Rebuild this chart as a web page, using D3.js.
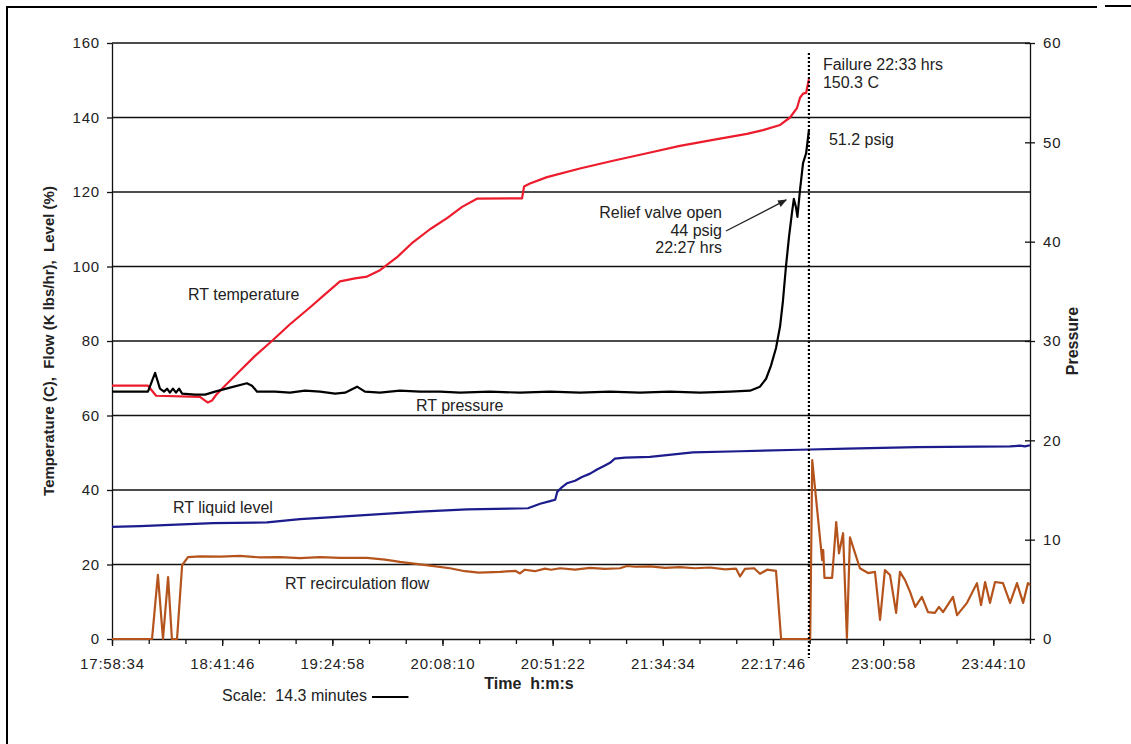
<!DOCTYPE html>
<html>
<head>
<meta charset="utf-8">
<script src="https://cdnjs.cloudflare.com/ajax/libs/d3/7.8.5/d3.min.js"></script>
<style>
    body { margin: 0; background: #fff; }
    svg text { font-family: "Liberation Sans", Arial, sans-serif; fill: #222; }
</style>
</head>
<body>
<div id="chart"></div>
<script>
// time is in minutes after 17:58:34
var xTickLabels = ["17:58:34", "18:41:46", "19:24:58", "20:08:10", "20:51:22", "21:34:34", "22:17:46", "23:00:58", "23:44:10"];
var leftTicks = [0, 20, 40, 60, 80, 100, 120, 140, 160];
var rightTicks = [0, 10, 20, 30, 40, 50, 60];
var failTime = 273.3;

// RT temperature (C)
var tempTime = [0, 14.1, 17.3, 34.5, 36.5, 37.6, 39.2, 40.8, 44.3, 50.2, 56.1, 62.7, 69.8, 77.6, 83.5, 89.4, 95.3, 100, 105.1, 111.8,
    118, 124.7, 131.4, 137.3, 143.1, 160.8, 161.6, 163.9, 170.6, 183.5, 196.5, 209.8, 222.7, 235.7, 249, 255.3, 262, 265.9, 268.6,
    269.8, 271, 272.2, 272.6, 273.3];
var tempValue = [68, 68, 65.3, 65, 64, 63.5, 64, 65.5, 68, 72, 76, 80, 84.5, 89, 92.5, 96, 96.8, 97.3, 99, 102.5,
    106.5, 110, 113, 116, 118.2, 118.3, 121.5, 122.3, 124, 126.3, 128.4, 130.4, 132.4, 134, 135.6, 136.6, 138, 140, 142.5,
    145.3, 146.4, 146.6, 148, 150.3];

// RT pressure (psig, right axis)
var presTime = [0, 14.1, 16.9, 18.8, 20.4, 21.6, 22.7, 23.9, 25.1, 26.3, 27.5, 32.5, 36.5, 40.4, 46.3, 52.9, 54.9, 56.9, 63.9, 69.8,
    75.7, 81.6, 87.5, 91.4, 96.1, 99.2, 105.1, 112.9, 120.8, 128.6, 136.5, 148.2, 160, 171.8, 183.5, 195.3, 207, 218.8, 230.6,
    242.4, 250.2, 254.1, 256.5, 258.4, 260.4, 262, 263.1, 264.3, 265.5, 266.7, 267.4, 268.2, 268.8, 269.8, 271, 272.2, 273.3];
var presValue = [24.9, 24.9, 26.8, 25.2, 24.9, 25.2, 24.8, 25.2, 24.8, 25.2, 24.7, 24.6, 24.6, 24.9, 25.3, 25.75, 25.5, 24.9, 24.9, 24.8,
    25, 24.9, 24.7, 24.8, 25.4, 24.9, 24.8, 25, 24.9, 24.9, 24.8, 24.9, 24.8, 24.9, 24.8, 24.9, 24.8, 24.9, 24.8,
    24.9, 25, 25.4, 26.2, 27.5, 29.3, 31.5, 34, 37.5, 40.5, 43, 44.3, 43.5, 42.5, 45.2, 47.9, 48.9, 51.2];

// RT liquid level (%)
var levelTime = [0, 11, 39.6, 60.8, 73.7, 86.7, 105.1, 120.8, 139.2, 163.1, 165.5, 167.9, 171.8, 173.8, 174.6, 176.5, 178.4, 181.6,
    184.3, 187.5, 190.2, 193.3, 195.3, 197.2, 201.2, 211, 227.8, 246.3, 269.8, 288.2, 315.7, 352.2, 356.1, 358, 360];
var levelValue = [30.1, 30.3, 31.1, 31.3, 32.2, 32.7, 33.5, 34.2, 34.8, 35.1, 35.7, 36.3, 37, 37.4, 39.5, 40.8, 41.8, 42.5,
    43.5, 44.4, 45.5, 46.6, 47.3, 48.4, 48.7, 48.9, 50.1, 50.4, 50.8, 51.1, 51.5, 51.7, 51.9, 51.7, 52];

// RT recirculation flow (K lbs/hr)
var flowTime = [0, 15.7, 18, 20, 22, 23.5, 25.5, 27.5, 29.8, 34.5, 42.4, 50.2, 58, 65.9, 73.7, 81.6, 89.4, 100, 107.1, 112.9,
    124.7, 132.5, 138.4, 143.9, 152.2, 158.1, 160, 161.9, 165.8, 169.8, 172.2, 175.7, 181.6, 187.5, 193.3, 199.2, 202, 205.1,
    211, 216.9, 222.7, 228.6, 234.5, 240.4, 244.7, 246.3, 248.2, 251.8, 254.1, 256.9, 260.4, 262.4, 273.8, 274.6, 278.5, 278.9,
    279.4, 282.4, 284, 285.1, 286.7, 288.2, 289.4, 293.3, 296.5, 299.2, 301.2, 303.1, 305.1, 307.5, 309, 311, 313, 315, 317.6,
    320, 322.7, 324.3, 325.9, 329.8, 331.4, 335.3, 339.2, 340.8, 342.4, 344.3, 346.3, 349.4, 352.2, 354.9, 357.3, 359.2, 360];
var flowValue = [0, 0, 17.2, 0, 16.6, 0, 0, 19.8, 22, 22.2, 22.1, 22.3, 21.9, 22, 21.7, 22, 21.8, 21.8, 21.3, 20.7,
    19.7, 19, 18.2, 17.8, 18, 18.3, 17.6, 18.6, 18.2, 18.9, 18.6, 19, 18.6, 19.1, 18.8, 19, 19.6, 19.4,
    19.5, 19.1, 19.3, 19, 19.2, 18.7, 18.9, 16.8, 18.8, 19, 17.5, 18.6, 18.3, 0, 0, 48, 21.2, 23.9,
    16.4, 16.4, 31.4, 23, 28.4, 0.3, 27.3, 19, 17.7, 18, 5.1, 18.5, 17.2, 7, 18, 15.8, 12.6, 8.6, 11.3,
    7.2, 7, 8.6, 7.2, 11.3, 6.4, 9.7, 15, 9.1, 15.3, 9.7, 15.3, 15, 9.7, 15, 9.7, 15, 14.5];

var W = 1131, H = 744;
var margin = { top: 43, right: 101, bottom: 105, left: 112 };
var width = W - margin.left - margin.right;
var height = H - margin.top - margin.bottom;

var svg = d3.select("#chart").append("svg")
    .attr("width", W)
    .attr("height", H);

// frame round the picture
svg.append("line").attr("x1", 7).attr("y1", 7).attr("x2", 7).attr("y2", H)
    .attr("stroke", "#000").attr("stroke-width", 2);
svg.append("line").attr("x1", 6).attr("y1", 7).attr("x2", 1097).attr("y2", 7)
    .attr("stroke", "#000").attr("stroke-width", 2);
svg.append("line").attr("x1", 1105).attr("y1", 6).attr("x2", W).attr("y2", 6)
    .attr("stroke", "#000").attr("stroke-width", 2);

var g = svg.append("g")
    .attr("transform", "translate(" + margin.left + "," + margin.top + ")");

var x = d3.scaleLinear().domain([0, 360]).range([0, width]);
var yL = d3.scaleLinear().domain([0, 160]).range([height, 0]);
var yR = d3.scaleLinear().domain([0, 60]).range([height, 0]);

// gridlines
g.selectAll(".grid")
    .data(leftTicks.filter(function (d) { return d > 0; }))
  .enter().append("line")
    .attr("class", "grid")
    .attr("x1", 0).attr("x2", width)
    .attr("y1", function (d) { return yL(d); })
    .attr("y2", function (d) { return yL(d); })
    .attr("stroke", "#111")
    .attr("stroke-width", 1.3);

function styleAxis(sel) {
    sel.selectAll("path").attr("stroke", "#111").attr("stroke-width", 1.3);
    sel.selectAll("line").attr("stroke", "#111").attr("stroke-width", 1.3);
    sel.selectAll("text")
        .style("font-family", "'Liberation Sans', Arial, sans-serif")
        .style("font-size", "15px")
        .style("letter-spacing", "0.8px")
        .attr("fill", "#222");
}

// left axis
var left = g.append("g")
    .call(d3.axisLeft(yL).tickValues(leftTicks).tickSize(5).tickSizeOuter(0).tickPadding(7));
styleAxis(left);

// right axis
var right = g.append("g")
    .attr("transform", "translate(" + width + ",0)")
    .call(d3.axisRight(yR).tickValues(rightTicks).tickSize(5).tickSizeOuter(0).tickPadding(8));
right.selectAll(".tick line").attr("x1", -5);
styleAxis(right);

// bottom axis: minor ticks every 14.4 min, labels every 43.2 min
var minorTicks = d3.range(0, 361, 14.4);
var majorTicks = xTickLabels.map(function (d, i) { return i * 43.2; });
var bottom = g.append("g")
    .attr("transform", "translate(0," + height + ")")
    .call(d3.axisBottom(x).tickValues(minorTicks).tickSize(5).tickSizeOuter(0).tickFormat(""));
styleAxis(bottom);
var bottomMajor = g.append("g")
    .attr("transform", "translate(0," + height + ")")
    .call(d3.axisBottom(x).tickValues(majorTicks).tickSize(7).tickSizeOuter(0)
        .tickFormat(function (d, i) { return xTickLabels[i]; }));
bottomMajor.select("path").remove();
styleAxis(bottomMajor);
bottomMajor.selectAll("text").attr("y", 19);

// series
function drawSeries(times, values, yScale, color) {
    var pts = times.map(function (t, i) { return [t, values[i]]; });
    var line = d3.line()
        .x(function (d) { return x(d[0]); })
        .y(function (d) { return yScale(d[1]); });
    g.append("path")
        .datum(pts)
        .attr("d", line)
        .attr("fill", "none")
        .attr("stroke", color)
        .attr("stroke-width", 2.2)
        .attr("stroke-linejoin", "round");
}

drawSeries(flowTime, flowValue, yL, "#b4541c");
drawSeries(levelTime, levelValue, yL, "#1c1c8c");
drawSeries(tempTime, tempValue, yL, "#ec1c2c");
drawSeries(presTime, presValue, yR, "#000");

// failure marker
g.append("line")
    .attr("x1", x(failTime)).attr("x2", x(failTime))
    .attr("y1", 10).attr("y2", height + 19)
    .attr("stroke", "#000")
    .attr("stroke-width", 2.2)
    .attr("stroke-dasharray", "2,2");

function label(gx, gy, txt, anchor, size, bold) {
    return g.append("text")
        .attr("x", gx).attr("y", gy)
        .attr("text-anchor", anchor || "start")
        .style("font-size", (size || 16) + "px")
        .style("font-weight", bold ? "bold" : "normal")
        .style("white-space", "pre")
        .text(txt);
}

label(x(failTime) + 14, 27, "Failure 22:33 hrs");
label(x(failTime) + 14, 45, "150.3 C");
label(x(failTime) + 20, 102, "51.2 psig");

label(610, 175, "Relief valve open", "end");
label(610, 193, "44 psig", "end");
label(610, 210, "22:27 hrs", "end");

svg.append("defs").append("marker")
    .attr("id", "arrow")
    .attr("viewBox", "0 0 10 10")
    .attr("refX", 9).attr("refY", 5)
    .attr("markerWidth", 7).attr("markerHeight", 7)
    .attr("orient", "auto")
  .append("path")
    .attr("d", "M0,1L10,5L0,9z")
    .attr("fill", "#222");
g.append("line")
    .attr("x1", 614).attr("y1", 188)
    .attr("x2", x(264.4)).attr("y2", yR(44.2))
    .attr("stroke", "#222")
    .attr("stroke-width", 1.3)
    .attr("marker-end", "url(#arrow)");

label(76, 257, "RT temperature");
label(304, 368, "RT pressure");
label(61, 470, "RT liquid level");
label(173, 546, "RT recirculation flow");

// axis titles
label(x(180) - 42, 646, "Time  h:m:s", "middle", 16, true);
g.append("text")
    .attr("transform", "translate(-58," + (height / 2) + ") rotate(-90)")
    .attr("text-anchor", "middle")
    .style("font-size", "15px")
    .style("font-weight", "bold")
    .style("white-space", "pre")
    .text("Temperature (C),  Flow (K lbs/hr),  Level (%)");
g.append("text")
    .attr("transform", "translate(" + (width + 48) + "," + (height / 2) + ") rotate(-90)")
    .attr("text-anchor", "middle")
    .style("font-size", "16px")
    .style("font-weight", "bold")
    .text("Pressure");

// scale note
label(110, 658, "Scale:  14.3 minutes");
g.append("line")
    .attr("x1", 260).attr("x2", 260 + x(14.3) - x(0))
    .attr("y1", 654).attr("y2", 654)
    .attr("stroke", "#000")
    .attr("stroke-width", 2.2);
</script>
</body>
</html>
